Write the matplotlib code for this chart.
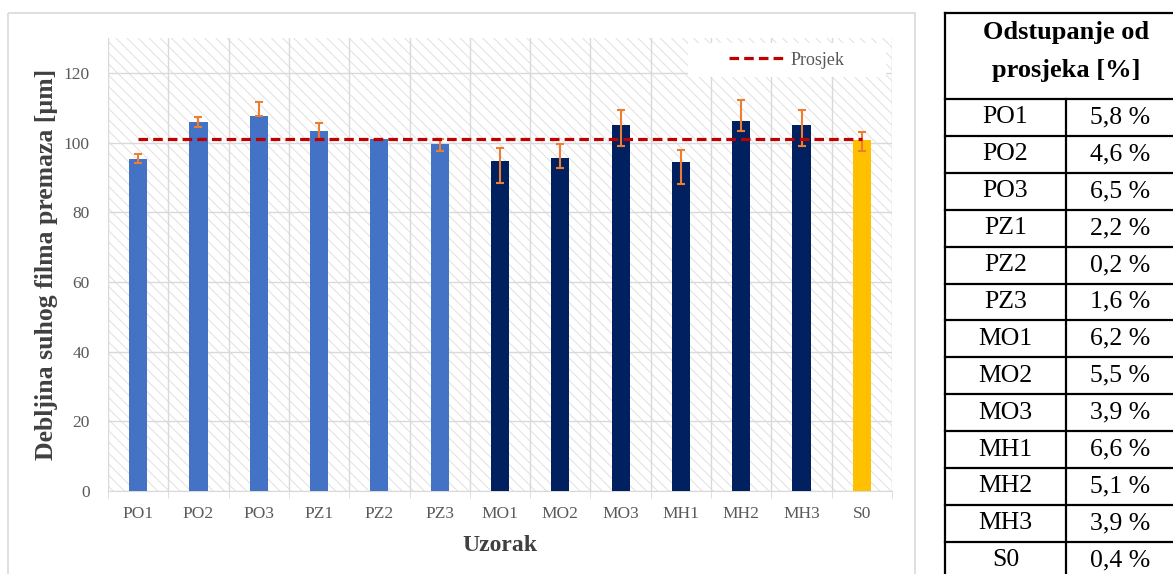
import numpy as np
import matplotlib
matplotlib.use("Agg")
import matplotlib.pyplot as plt
from matplotlib.patches import Rectangle

plt.rcParams['font.family'] = ['Liberation Serif', 'DejaVu Serif']
plt.rcParams['hatch.linewidth'] = 0.7

# data
samples = ['PO1', 'PO2', 'PO3', 'PZ1', 'PZ2', 'PZ3', 'MO1', 'MO2', 'MO3', 'MH1', 'MH2', 'MH3', 'S0']
thickness = [95.2, 105.8, 107.7, 103.3, 101.0, 99.5, 94.6, 95.6, 105.1, 94.4, 106.3, 105.1, 100.8]
err_low = [1.2, 1.2, 0.0, 2.2, 0.0, 1.8, 6.3, 2.9, 6.2, 6.3, 3.1, 6.2, 3.2]
err_high = [1.4, 1.5, 3.8, 2.3, 0.0, 1.6, 3.8, 3.9, 4.1, 3.6, 6.0, 4.1, 2.3]
deviation = ['5,8 %', '4,6 %', '6,5 %', '2,2 %', '0,2 %', '1,6 %', '6,2 %',
             '5,5 %', '3,9 %', '6,6 %', '5,1 %', '3,9 %', '0,4 %']
groups = ['P'] * 6 + ['M'] * 6 + ['S']
group_colors = {'P': '#4472C4', 'M': '#002060', 'S': '#FFC000'}

W, H = 1173, 574
fig = plt.figure(figsize=(W / 100, H / 100), dpi=100)

# overlay in pixel coordinates for frame + table
ov = fig.add_axes([0, 0, 1, 1])
ov.set_xlim(0, W)
ov.set_ylim(H, 0)
ov.axis('off')
ov.add_patch(Rectangle((8, 13), 907, 580, facecolor='none', edgecolor='#D9D9D9', lw=1.2))

ax = fig.add_axes([108 / W, 1 - 491 / H, (892 - 108) / W, (491 - 38) / H])
x = np.arange(len(samples))
mean = np.mean(thickness)

ax.add_patch(Rectangle((0, 0), 1, 1, transform=ax.transAxes, facecolor='white',
                       edgecolor='#E0E0E0', hatch='\\\\\\', lw=0, zorder=0))
ax.bar(x, thickness, width=0.3, color=[group_colors[g] for g in groups], zorder=3)
ax.errorbar(x, thickness, yerr=[err_low, err_high], fmt='none', ecolor='#ED7D31',
            elinewidth=1.5, capsize=3, capthick=1.5, zorder=4)
ax.plot(x, [mean] * len(x), color='#C00000', lw=2.3, dashes=(3, 1.6), zorder=5,
        label='Prosjek')

ax.set_xlim(-0.5, len(x) - 0.5)
ax.set_ylim(0, 130)
ax.set_yticks(np.arange(0, 121, 20))
ax.set_xticks(x)
ax.set_xticklabels(samples)
ax.set_xticks(np.arange(-0.5, len(x), 1), minor=True)
ax.grid(True, axis='y', which='major', color='#D9D9D9', lw=1, zorder=1)
ax.grid(True, axis='x', which='minor', color='#D9D9D9', lw=1, zorder=1)
ax.set_axisbelow(True)
ax.tick_params(axis='x', which='major', length=0, pad=11, labelsize=12.5, labelcolor='#595959')
ax.tick_params(axis='x', which='minor', length=5, color='#D9D9D9')
ax.tick_params(axis='y', length=0, pad=13, labelsize=12.5, labelcolor='#595959')
for s in ['top', 'right', 'left']:
    ax.spines[s].set_visible(False)
ax.spines['bottom'].set_color('#D9D9D9')
ax.set_xlabel('Uzorak', fontsize=17, fontweight='bold', color='#404040', labelpad=9)
ax.set_ylabel('Debljina suhog filma premaza [µm]', fontsize=18.5, fontweight='bold',
              color='#404040', labelpad=4)

ax.add_patch(Rectangle((0.74, 0.914), 0.252, 0.075, transform=ax.transAxes,
                       facecolor='white', edgecolor='none', zorder=6))
ax.legend(loc='center', bbox_to_anchor=(0.866, 0.951), frameon=False, fontsize=13,
          handlelength=3.0, handletextpad=0.4, labelcolor='#595959').set_zorder(7)

# table on the right
tl, tr, tm = 945, 1187, 1066
top, head_b, row_h = 13, 99, 36.9
n = len(samples)
lw = 1.6
ov.plot([tl, tr], [top, top], color='black', lw=lw)
ov.plot([tl, tl], [top, head_b + n * row_h], color='black', lw=lw)
ov.plot([tm, tm], [head_b, head_b + n * row_h], color='black', lw=lw)
for i in range(n + 1):
    yy = head_b + i * row_h
    ov.plot([tl, tr], [yy, yy], color='black', lw=lw)
ov.text(tm, 33, 'Odstupanje od', ha='center', va='center', fontsize=19, fontweight='bold')
ov.text(tm, 70, 'prosjeka [%]', ha='center', va='center', fontsize=19, fontweight='bold')
for i, (s, d) in enumerate(zip(samples, deviation)):
    yy = head_b + (i + 0.5) * row_h
    ov.text((tl + tm) / 2, yy, s, ha='center', va='center', fontsize=18.5)
    ov.text((tm + tr) / 2 - 6, yy, d, ha='center', va='center', fontsize=18.5)

fig.savefig('out.png', dpi=100)
